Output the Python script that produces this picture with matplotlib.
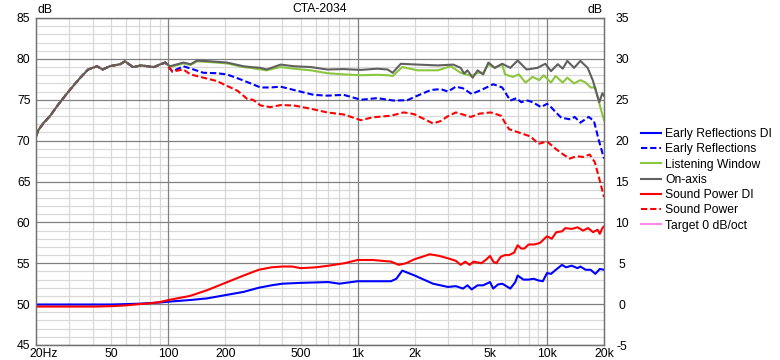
import numpy as np
import matplotlib
matplotlib.use("Agg")
import matplotlib.pyplot as plt
from matplotlib.lines import Line2D
from matplotlib.transforms import ScaledTranslation

plt.rcParams['font.family'] = ['Liberation Sans', 'DejaVu Sans']
plt.rcParams['axes.unicode_minus'] = False

# shared low-frequency part of the four upper curves (20-100 Hz)
lf_freq = [20, 20.6, 22, 23.7, 26, 29, 32, 34.3, 37.7, 42, 45, 49, 55.7, 59, 65, 72, 77.5, 84, 90, 96.4]
lf_level = [70.5, 71.3, 72.2, 73.0, 74.3, 75.7, 76.9, 77.7, 78.7, 79.1, 78.7, 79.1, 79.35, 79.7,
            79.0, 79.2, 79.1, 79.0, 79.3, 79.55]

# On-axis (dB)
on_freq = [102, 110, 120, 131, 142, 167, 204, 249, 272, 307, 330, 392, 460, 565, 690, 843, 1040,
           1270, 1440, 1530, 1690, 2070, 2650, 3200, 3500, 3650, 3800, 4050, 4300, 4600, 4900,
           5300, 5800, 6400, 7000, 7800, 8900, 9800, 10500, 11400, 12100, 12800, 13900, 15000,
           16400, 17500, 18100, 18900, 19600, 20000]
on_level = [79.1, 79.3, 79.55, 79.35, 79.8, 79.7, 79.55, 79.1, 79.0, 78.9, 78.7, 79.3, 79.1, 79.0,
            78.7, 78.75, 78.65, 78.8, 78.7, 78.3, 79.4, 79.3, 79.2, 79.3, 78.9, 78.2, 78.6, 77.7,
            78.6, 78.1, 79.55, 78.9, 79.4, 78.9, 79.8, 78.7, 78.9, 79.4, 78.5, 79.35, 78.8, 79.75,
            78.9, 79.75, 78.9, 77.3, 76.1, 74.7, 75.8, 75.5]

# Listening Window (dB)
lw_freq = [102, 110, 120, 131, 142, 167, 204, 249, 272, 307, 330, 392, 460, 565, 690, 843, 1040,
           1270, 1440, 1530, 1720, 2070, 2650, 3100, 3500, 4000, 4300, 4600, 4900, 5300, 5800,
           6000, 6600, 7100, 7700, 8400, 9100, 9600, 10500, 11100, 12100, 12800, 13900, 15000,
           16000, 17000, 18000, 18800, 20000]
lw_level = [79.0, 79.2, 79.45, 79.25, 79.7, 79.6, 79.45, 79.0, 78.9, 78.7, 78.6, 79.0, 78.8, 78.6,
            78.25, 78.1, 78.0, 78.05, 78.0, 77.9, 79.0, 78.6, 78.6, 79.1, 78.3, 77.9, 78.3, 78.3,
            79.3, 78.9, 79.3, 78.1, 77.8, 78.1, 77.1, 77.8, 77.4, 78.0, 77.1, 77.9, 77.1, 77.7,
            77.0, 77.4, 77.1, 76.5, 76.5, 74.7, 72.5]

# Early Reflections (dB)
er_freq = [105, 120, 136, 153, 180, 204, 240, 272, 307, 346, 392, 460, 518, 585, 690, 843, 1040,
           1270, 1550, 1830, 2070, 2440, 2750, 3000, 3300, 3600, 4000, 4500, 5200, 5800, 6400,
           6900, 7300, 7900, 8400, 9300, 10000, 10500, 11200, 11900, 13300, 14000, 15000, 16600,
           17700, 18800, 20000]
er_level = [78.45, 79.1, 78.7, 78.3, 78.25, 78.1, 77.5, 77.0, 76.5, 76.5, 76.6, 76.2, 75.9, 75.6,
            75.5, 75.6, 75.0, 75.2, 74.9, 74.95, 75.5, 76.2, 76.3, 76.0, 76.6, 76.4, 75.7, 76.2,
            76.9, 76.5, 74.9, 75.2, 74.7, 74.9, 74.7, 74.1, 74.5, 74.1, 73.4, 72.8, 72.6, 72.9,
            72.2, 72.9, 72.4, 70.0, 67.8]

# Sound Power (dB)
sp_freq = [105, 120, 131, 153, 180, 204, 232, 261, 280, 307, 346, 392, 460, 565, 690, 843, 1040,
           1200, 1500, 1750, 1980, 2240, 2500, 2750, 3000, 3300, 3960, 4400, 5050, 5700, 6300,
           7300, 8200, 9000, 10000, 11100, 12200, 13200, 14300, 15500, 16800, 17900, 19000, 20000]
sp_level = [78.45, 78.7, 78.1, 77.7, 77.3, 76.7, 76.1, 75.1, 75.0, 74.3, 74.1, 74.35, 74.3, 73.9,
            73.45, 73.2, 72.5, 72.85, 73.05, 73.45, 73.25, 72.65, 72.1, 72.4, 73.0, 73.45, 72.9,
            73.3, 73.45, 73.05, 71.4, 70.9, 70.5, 69.6, 69.9, 69.0, 68.3, 67.8, 68.1, 68.0, 68.3,
            67.35, 65.1, 63.1]

# Sound Power DI (right axis, dB)
spdi_freq = [20, 30, 40, 50, 60, 70, 80, 90, 100, 130, 160, 200, 250, 300, 350, 400, 450, 500, 600,
             700, 850, 1000, 1200, 1500, 1650, 1800, 2000, 2200, 2400, 2700, 3000, 3300, 3500,
             3700, 3900, 4100, 4500, 4800, 5000, 5200, 5400, 5700, 6000, 6300, 6700, 7000, 7300,
             7600, 8000, 8600, 9200, 10000, 10600, 11200, 12000, 12500, 13500, 14500, 15500, 16500,
             17500, 18500, 19000, 19600, 20000]
spdi_level = [-0.3, -0.3, -0.3, -0.25, -0.15, 0.0, 0.1, 0.25, 0.5, 1.0, 1.7, 2.6, 3.5, 4.2, 4.5,
              4.6, 4.6, 4.4, 4.5, 4.7, 5.0, 5.4, 5.4, 5.2, 4.8, 5.0, 5.5, 5.8, 6.1, 5.9, 5.6, 5.3,
              4.8, 5.2, 4.8, 5.2, 5.0, 5.5, 5.9, 5.2, 5.0, 5.8, 6.0, 6.0, 6.3, 7.2, 6.8, 6.8, 7.3,
              7.3, 7.5, 8.3, 8.0, 8.8, 8.9, 9.3, 9.2, 9.4, 9.0, 9.3, 8.8, 9.1, 8.6, 9.3, 9.5]

# Early Reflections DI (right axis, dB)
erdi_freq = [20, 50, 70, 90, 100, 130, 160, 200, 250, 300, 350, 400, 500, 700, 800, 1000, 1500,
             1600, 1720, 2000, 2500, 3000, 3300, 3600, 3800, 4000, 4300, 4600, 5000, 5200, 5500,
             5800, 6000, 6400, 6800, 7000, 7500, 8000, 8500, 9000, 9500, 10000, 10500, 11000,
             12000, 12600, 13500, 14500, 15000, 16000, 17000, 18000, 19000, 20000]
erdi_level = [-0.05, -0.05, 0.05, 0.2, 0.3, 0.5, 0.7, 1.1, 1.5, 2.0, 2.3, 2.5, 2.6, 2.7, 2.5, 2.8,
              2.8, 3.1, 4.1, 3.5, 2.5, 2.1, 2.2, 1.9, 2.3, 1.8, 2.3, 2.3, 2.7, 1.9, 2.4, 2.5, 2.3,
              1.9, 2.7, 3.5, 3.0, 3.0, 3.1, 2.9, 2.8, 3.8, 3.7, 4.1, 4.8, 4.5, 4.7, 4.4, 4.6, 4.2,
              4.2, 3.7, 4.3, 4.2]

xtick_vals = [20, 50, 100, 200, 500, 1000, 2000, 5000, 10000, 20000]
xtick_labels = ['20Hz', '50', '100', '200', '500', '1k', '2k', '5k', '10k', '20k']

BLUE = '#0000ff'
RED = '#ff0000'
GREEN = '#8cc63f'
GRAY = '#606060'
PINK = '#ff88ee'
FS = 8.7
LW = 1.5
DASH = (3, 1.4)

fig = plt.figure(figsize=(7.8, 3.6), dpi=100)
ax = fig.add_axes([36 / 780, 15 / 360, 568 / 780, 327 / 360])
ax.set_xscale('log')
ax.set_xlim(20, 20000)
ax.set_ylim(45, 85)

# grid
for v in range(45, 86):
    major = v % 5 == 0
    ax.axhline(v, color='#808080' if major else '#d9d9d9', lw=0.9, zorder=1 if major else 0)
for dec in [10, 100, 1000, 10000]:
    for m in range(1, 10):
        f = dec * m
        if 20 < f < 20000:
            ax.axvline(f, color='#808080' if m == 1 else '#d9d9d9', lw=0.9, zorder=1 if m == 1 else 0)

def join(fa, la):
    return np.array(lf_freq + fa), np.array(lf_level + la)

f, v = join(er_freq, er_level)
ax.plot(f, v, color=BLUE, lw=LW, dashes=DASH, zorder=3)
f, v = join(lw_freq, lw_level)
ax.plot(f, v, color=GREEN, lw=LW, zorder=3)
f, v = join(on_freq, on_level)
ax.plot(f, v, color=GRAY, lw=LW, zorder=4)
f, v = join(sp_freq, sp_level)
ax.plot(f, v, color=RED, lw=LW, dashes=DASH, zorder=3.5)

ax2 = ax.twinx()
ax2.set_ylim(-5, 35)
ax2.plot(erdi_freq, erdi_level, color=BLUE, lw=LW)
ax2.plot(spdi_freq, spdi_level, color=RED, lw=LW)

ax.set_xticks(xtick_vals)
ax.set_xticklabels(xtick_labels)
ax.xaxis.set_minor_locator(matplotlib.ticker.NullLocator())
ax.set_yticks(range(45, 86, 5))
ax.tick_params(length=0, labelsize=FS, pad=4)
ax.tick_params(axis='x', pad=2)
ax2.set_yticks(range(-5, 36, 5))
ax2.tick_params(length=0, labelsize=FS, pad=13)
for lbl in ax2.get_yticklabels():
    lbl.set_ha('center')
lbl0 = ax.get_xticklabels()[0]
lbl0.set_transform(lbl0.get_transform() + ScaledTranslation(8 / 100, 0, fig.dpi_scale_trans))

for a in (ax, ax2):
    for s in a.spines.values():
        s.set_color('#707070')
        s.set_linewidth(0.9)

fig.text(320 / 780, 1 - 9 / 360, 'CTA-2034', ha='center', va='center', fontsize=FS)
fig.text(37 / 780, 1 - 10 / 360, 'dB', ha='left', va='center', fontsize=FS)
fig.text(603 / 780, 1 - 10 / 360, 'dB', ha='right', va='center', fontsize=FS)

handles = [
    Line2D([], [], color=BLUE, lw=LW),
    Line2D([], [], color=BLUE, lw=LW, dashes=DASH),
    Line2D([], [], color=GREEN, lw=LW),
    Line2D([], [], color=GRAY, lw=LW),
    Line2D([], [], color=RED, lw=LW),
    Line2D([], [], color=RED, lw=LW, dashes=DASH),
    Line2D([], [], color=PINK, lw=LW),
]
labels = ['Early Reflections DI', 'Early Reflections', 'Listening Window', 'On-axis',
          'Sound Power DI', 'Sound Power', 'Target 0 dB/oct']
fig.legend(handles, labels, loc='upper left', bbox_to_anchor=(641 / 780, 1 - 128 / 360),
           frameon=False, fontsize=FS, handlelength=1.65, handletextpad=0.35,
           labelspacing=0.27, borderpad=0, borderaxespad=0)

fig.savefig('out.png', dpi=100)
